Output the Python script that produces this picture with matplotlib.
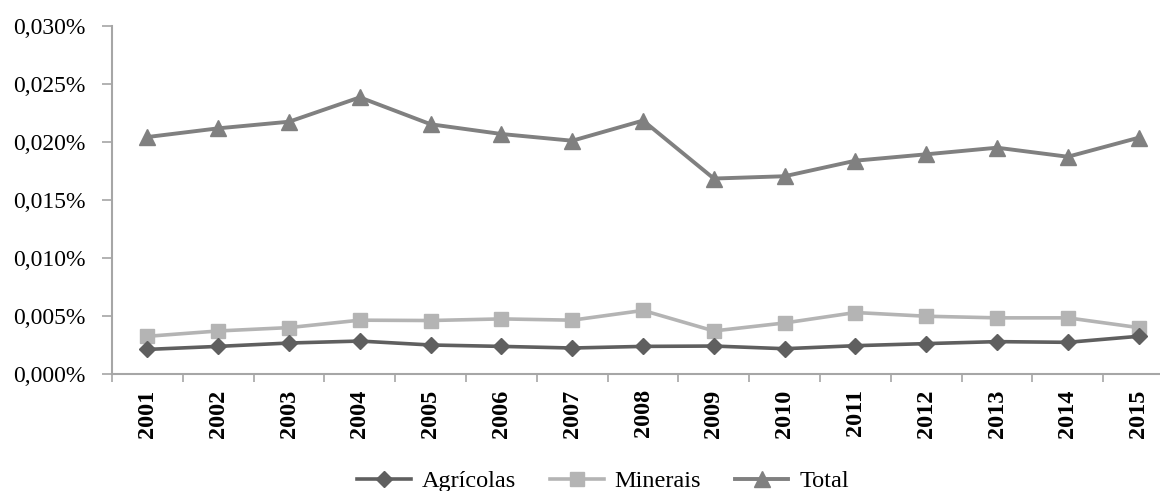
import numpy as np
from matplotlib import pyplot as plt
from matplotlib.ticker import FuncFormatter, FixedLocator

# Data (share in %)
years = ['2001', '2002', '2003', '2004', '2005', '2006', '2007', '2008',
         '2009', '2010', '2011', '2012', '2013', '2014', '2015']
agricolas = [0.00212, 0.00238, 0.00267, 0.00284, 0.00250, 0.00238, 0.00224, 0.00238,
             0.00241, 0.00218, 0.00244, 0.00262, 0.00279, 0.00273, 0.00325]
minerais = [0.00325, 0.00371, 0.00400, 0.00464, 0.00461, 0.00475, 0.00464, 0.00548,
            0.00371, 0.00440, 0.00530, 0.00498, 0.00484, 0.00484, 0.00400]
total = [0.02043, 0.02118, 0.02175, 0.02385, 0.02153, 0.02069, 0.02011, 0.02185,
         0.01685, 0.01705, 0.01839, 0.01894, 0.01951, 0.01873, 0.02037]

serif = 'Liberation Serif'
axis_gray = '#A6A6A6'

fig = plt.figure(figsize=(11.6, 4.91), dpi=100)
ax = fig.add_axes([0.0966, 0.2383, 0.9155, 0.7087])

x = np.arange(len(years))
ax.plot(x, agricolas, color='#5F5F5F', lw=2.6, marker='D', ms=8,
        label='Agrícolas', zorder=3)
ax.plot(x, minerais, color='#B4B4B4', lw=2.6, marker='s', ms=10,
        label='Minerais', zorder=2)
ax.plot(x, total, color='#808080', lw=2.8, marker='^', ms=11,
        label='Total', zorder=2)

# Axes formatting
ax.set_xlim(-0.5, len(years) - 0.5)
ax.set_ylim(0, 0.030)
ax.set_yticks(np.arange(0, 0.0301, 0.005))
ax.yaxis.set_major_formatter(FuncFormatter(lambda v, p: f'{v:.3f}%'.replace('.', ',')))

ax.set_xticks(x)
ax.set_xticklabels(years, rotation=90, fontsize=17.5, fontweight='bold', family=serif)
ax.xaxis.set_minor_locator(FixedLocator(np.arange(-0.5, len(years), 1.0)))
ax.tick_params(axis='x', which='major', length=0, pad=11)
ax.tick_params(axis='x', which='minor', length=6, width=1.2, color=axis_gray)
ax.tick_params(axis='y', length=7, width=1.2, color=axis_gray, pad=12)
for lab in ax.get_yticklabels():
    lab.set_family(serif)
    lab.set_fontsize(17)

for side in ['top', 'right']:
    ax.spines[side].set_visible(False)
for side in ['left', 'bottom']:
    ax.spines[side].set_color(axis_gray)
    ax.spines[side].set_linewidth(1.5)

fig.legend(loc='center', bbox_to_anchor=(0.52, 0.02), ncol=3, frameon=False,
           prop={'family': serif, 'size': 17.5}, handlelength=2.2,
           handletextpad=0.45, columnspacing=1.4)

fig.savefig('out.png', dpi=100)
